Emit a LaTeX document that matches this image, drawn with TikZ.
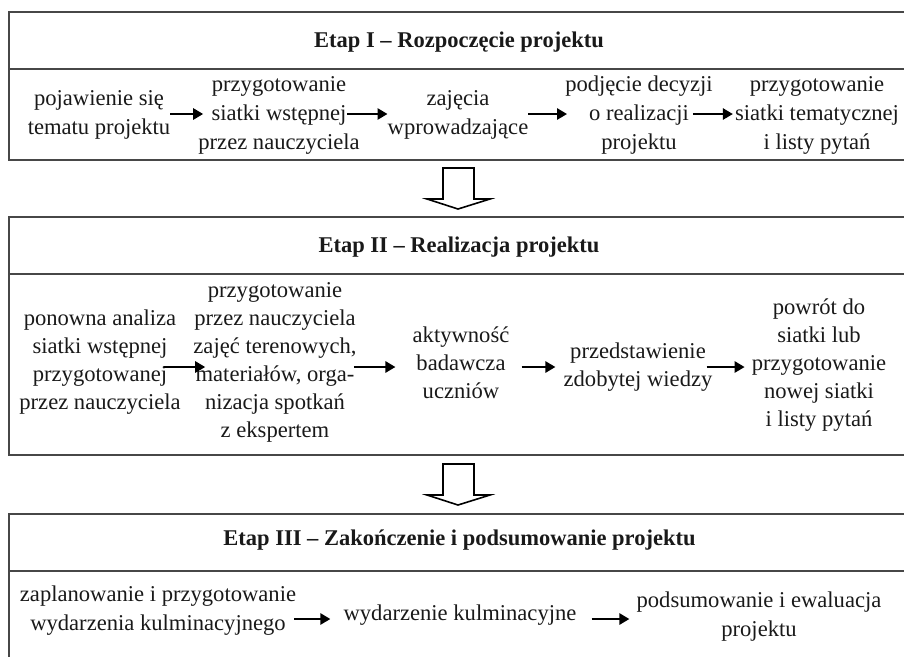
\documentclass[tikz,border=0pt]{standalone}
\usepackage{fontspec}
\setmainfont{Liberation Serif}
\usetikzlibrary{arrows.meta}
\begin{document}
\begin{tikzpicture}[x=1pt,y=-1pt,
  frame/.style={draw=black!72, line width=1.6pt},
  title/.style={font=\fontsize{22.5}{27}\selectfont\bfseries, inner sep=0pt, text=black!90},
  txt/.style={align=center, inner sep=0pt, text=black!90, font=\fontsize{22.6}{29}\selectfont},
  txtb/.style={txt, font=\fontsize{22.6}{28}\selectfont},
  flow/.style={-{Triangle[length=10pt,width=11pt]}, line width=2.7pt},
  blockarrow/.style={draw=black, line width=1.6pt, fill=white, line join=miter}]
\useasboundingbox (0,0) rectangle (904,657);

% stage frames
\draw[frame] (904,12) -- (9,12) -- (9,160) -- (904,160);
\draw[frame] (9,69) -- (904,69);
\draw[frame] (904,217) -- (9,217) -- (9,455) -- (904,455);
\draw[frame] (9,274) -- (904,274);
\draw[frame] (904,514) -- (9,514) -- (9,657);
\draw[frame] (9,571) -- (904,571);

% block arrows between stages
\draw[blockarrow] (443,168) -- (474,168) -- (474,199) -- (490,199) -- (458,209) -- (427,199) -- (443,199) -- cycle;
\draw[blockarrow] (443,464) -- (474,464) -- (474,495) -- (490,495) -- (458,505) -- (427,495) -- (443,495) -- cycle;

% titles
\node[title] (t1) at (459,42) {Etap I – Rozpoczęcie projektu};
\node[title] (t2) at (459,247) {Etap II – Realizacja projektu};
\node[title] (t3) at (459.5,540) {Etap III – Zakończenie i podsumowanie projektu};

% stage I
\coordinate (r1) at (0,114);
\node[txt] (a1) at (99,115) {pojawienie się\\tematu projektu};
\node[txt] (a2) at (279,115) {przygotowanie\\siatki wstępnej\\przez nauczyciela};
\node[txt] (a3) at (458,115) {zajęcia\\wprowadzające};
\node[txt] (a4) at (639,115) {podjęcie decyzji\\o realizacji\\projektu};
\node[txt] (a5) at (817,115) {przygotowanie\\siatki tematycznej\\i listy pytań};
\draw[flow, shorten >=-5pt] (a1.east |- r1) -- (a2.west |- r1);
\draw[flow, shorten <=-13pt] (a2.east |- r1) -- (a3.west |- r1);
\draw[flow, shorten >=-2pt] (a3.east |- r1) -- (a4.west |- r1);
\draw[flow, shorten <=-20pt, shorten >=2pt] (a4.east |- r1) -- (a5.west |- r1);

% stage II
\coordinate (r2) at (0,367);
\node[txtb] (b1) at (100,362) {ponowna analiza\\siatki wstępnej\\przygotowanej\\przez nauczyciela};
\node[txtb] (b2) at (275,362) {przygotowanie\\przez nauczyciela\\zajęć terenowych,\\materiałów, orga-\\nizacja spotkań\\z ekspertem};
\node[txtb] (b3) at (461,363) {aktywność\\badawcza\\uczniów};
\node[txtb] (b4) at (638,367) {przedstawienie\\zdobytej wiedzy};
\node[txtb] (b5) at (819,365) {powrót do\\siatki lub\\przygotowanie\\nowej siatki\\i listy pytań};
\draw[flow, shorten <=-17pt, shorten >=-12pt] (b1.east |- r2) -- (b2.west |- r2);
\draw[flow, shorten <=-3pt, shorten >=17pt] (b2.east |- r2) -- (b3.west |- r2);
\draw[flow, shorten <=12pt, shorten >=8pt] (b3.east |- r2) -- (b4.west |- r2);
\draw[flow, shorten <=-6pt, shorten >=7pt] (b4.east |- r2) -- (b5.west |- r2);

% stage III
\coordinate (r3) at (0,619);
\node[txt] (c1) at (158,611) {zaplanowanie i przygotowanie\\wydarzenia kulminacyjnego};
\node[txt] (c2) at (460,615) {wydarzenie kulminacyjne};
\node[txt] (c3) at (759,617) {podsumowanie i ewaluacja\\projektu};
\draw[flow, shorten <=-2pt, shorten >=13pt] (c1.east |- r3) -- (c2.west |- r3);
\draw[flow, shorten <=15pt, shorten >=7pt] (c2.east |- r3) -- (c3.west |- r3);
\end{tikzpicture}
\end{document}
